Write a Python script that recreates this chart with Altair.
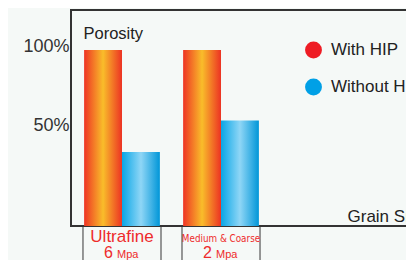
import altair as alt
import pandas as pd

categories = ["Ultrafine", "Medium & Coarse"]
pressure = ["6", "2"]
unit = "Mpa"
series = ["With HIP", "Without HIP"]
with_hip = [100, 100]
without_hip = [42, 60]
y_tick_values = [101.7, 57.0]
y_tick_labels = ["100%", "50%"]

rows = []
for c, a, b in zip(categories, with_hip, without_hip):
    rows.append({"category": c, "series": series[0], "value": a})
    rows.append({"category": c, "series": series[1], "value": b})
df = pd.DataFrame(rows)
cat_df = pd.DataFrame({"category": categories, "pressure": pressure, "unit": [unit] * len(categories)})

FONT = "Liberation Sans"
RED_TXT = "#ee2b2b"

grad_orange = alt.Gradient(
    gradient="linear", x1=0, x2=1, y1=0, y2=0,
    stops=[alt.GradientStop(offset=0, color="#ee3424"),
           alt.GradientStop(offset=0.5, color="#f9bd2a"),
           alt.GradientStop(offset=1, color="#ec3323")])
grad_blue = alt.Gradient(
    gradient="linear", x1=0, x2=1, y1=0, y2=0,
    stops=[alt.GradientStop(offset=0, color="#08a6e6"),
           alt.GradientStop(offset=0.5, color="#8fd6f6"),
           alt.GradientStop(offset=1, color="#0096d8")])

x_scale = alt.Scale(domain=categories, range=[0, 201], paddingInner=0.212, paddingOuter=0.121)
x_axis = alt.Axis(labels=False, ticks=False, domain=False, grid=False,
                  title="Grain Size", titleX=276, titleY=-4.5, titleAlign="left",
                  titleBaseline="alphabetic", titleFontSize=17, titleFontWeight="normal",
                  titleColor="#222", titleFont=FONT, titleAngle=0)

def xenc(bp=None):
    if bp is None:
        return alt.X("category:N", scale=x_scale, axis=x_axis)
    return alt.X("category:N", scale=x_scale, axis=x_axis, bandPosition=bp)

label_expr = " : ".join(f"datum.value == {v} ? '{l}'" for v, l in zip(y_tick_values, y_tick_labels)) + " : ''"
y_enc = alt.Y("value:Q", scale=alt.Scale(domain=[0, 122.7], nice=False, zero=True),
              axis=alt.Axis(values=y_tick_values, labelExpr=label_expr, domain=False, ticks=False,
                            grid=False, labelFontSize=18, labelColor="#333", labelFont=FONT,
                            labelPadding=2, labelBaseline="middle",
                            title="Porosity", titleAngle=0, titleX=12, titleY=28.5,
                            titleAlign="left", titleBaseline="alphabetic", titleFontSize=16.5,
                            titleFontWeight="normal", titleColor="#222", titleFont=FONT))
xoff = alt.XOffset("series:N", scale=alt.Scale(domain=series, paddingInner=0, paddingOuter=0.03))

bars = alt.Chart(df).mark_bar().encode(
    x=xenc(), xOffset=xoff, y=y_enc,
    fill=alt.condition(alt.datum.series == series[0], alt.value(grad_orange), alt.value(grad_blue)),
)

legend_pts = alt.Chart(df).mark_point(filled=True, opacity=0).encode(
    x=xenc(), xOffset=xoff, y=alt.Y("value:Q"),
    color=alt.Color("series:N", scale=alt.Scale(domain=series, range=["#ee1c24", "#00a0e6"]),
                    legend=alt.Legend(orient="none", legendX=234, legendY=31.5, title=None,
                                      symbolType="circle", symbolSize=284, symbolOpacity=1,
                                      symbolStrokeWidth=0, labelFontSize=17, labelColor="#222",
                                      labelFont=FONT, labelOffset=9, rowPadding=19, padding=0,
                                      labelLimit=200)),
)

rule_l = alt.Chart(cat_df).mark_rule(color="#555", strokeWidth=1.2).encode(
    x=xenc(0), y=alt.value(217), y2=alt.value(255))
rule_r = alt.Chart(cat_df).mark_rule(color="#555", strokeWidth=1.2).encode(
    x=xenc(1), y=alt.value(217), y2=alt.value(255))

name1 = alt.Chart(cat_df).transform_filter(alt.datum.category == categories[0]).mark_text(
    font=FONT, fontSize=17, color=RED_TXT, baseline="alphabetic", align="center").encode(
    x=xenc(), y=alt.value(232), text="category:N")
name2 = alt.Chart(cat_df).transform_filter(alt.datum.category == categories[1]).mark_text(
    font="Liberation Sans Narrow, DejaVu Sans Condensed, Liberation Sans", fontSize=9.8,
    color=RED_TXT, baseline="alphabetic", align="center").encode(
    x=xenc(), y=alt.value(231.5), text="category:N")
num = alt.Chart(cat_df).mark_text(
    font=FONT, fontSize=16, color=RED_TXT, baseline="alphabetic", align="right", dx=-9).encode(
    x=xenc(), y=alt.value(248), text="pressure:N")
unit_t = alt.Chart(cat_df).mark_text(
    font=FONT, fontSize=11, color=RED_TXT, baseline="alphabetic", align="left", dx=-5).encode(
    x=xenc(), y=alt.value(248), text="unit:N")

chart = alt.layer(rule_l, rule_r, bars, legend_pts, name1, name2, num, unit_t).properties(
    width=338, height=216,
    autosize=alt.AutoSizeParams(type="none"),
    padding={"left": 63, "top": 2, "right": -3, "bottom": 34},
    background="#f5f9f7",
).configure_view(stroke="#333", strokeWidth=2).resolve_scale(x="shared")

chart.save("out.html", embed_options={"renderer": "svg", "actions": False})
